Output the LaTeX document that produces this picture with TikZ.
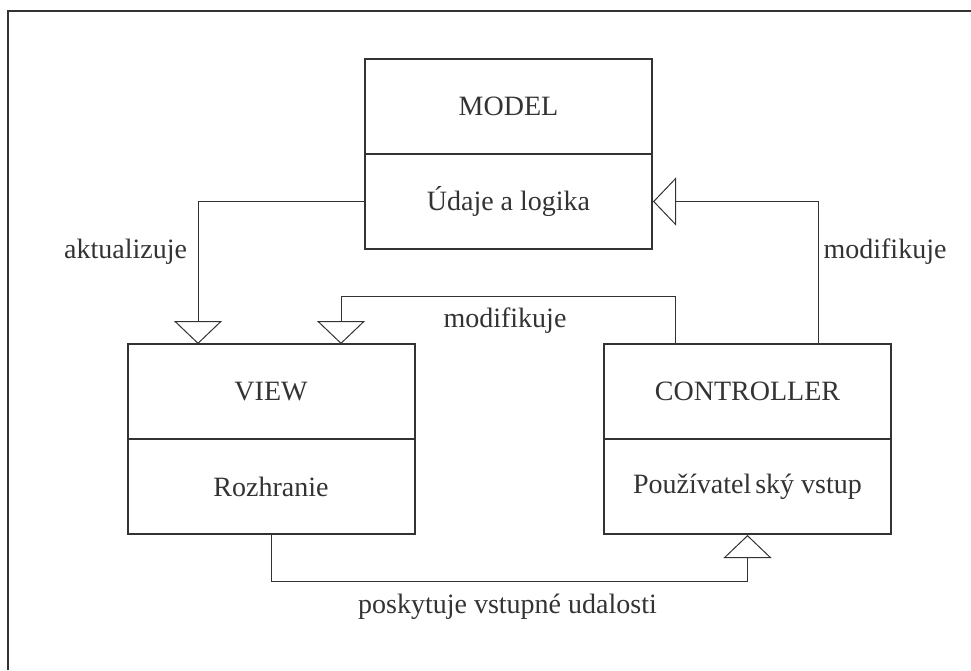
\documentclass[tikz,border=0pt]{standalone}
\usepackage{fontspec}
\setmainfont{Liberation Serif}
\usetikzlibrary{arrows.meta,calc}
\definecolor{ink}{HTML}{333333}
\tikzset{
  part/.style={draw=ink,line width=2pt,minimum width=287pt,minimum height=95pt,
    inner sep=0pt,text=ink,font=\fontsize{28}{34}\selectfont},
  conn/.style={draw=ink,line width=1pt},
  hollow/.style={-{Triangle[open,fill=white,width=48pt,length=23pt,line width=1pt]}},
  lbl/.style={text=ink,font=\fontsize{28}{34}\selectfont,inner sep=0pt}
}
\begin{document}
\begin{tikzpicture}[x=1pt,y=-1pt]
\useasboundingbox (0,0) rectangle (971,670);
% outer frame (only its top and left sides fall inside the page)
\draw[ink,line width=2pt] (8,670) -- (8,11) -- (971,11);

% MODEL
\node[part] (mt) at (508.5,106) {MODEL};
\node[part] (mb) at (508.5,201.5) {Údaje a logika};
% VIEW
\node[part] (vt) at (271,391.5) {VIEW};
\node[part] (vb) at (271,486.5) {Rozhranie};
% CONTROLLER
\node[part] (ct) at (747.5,391.5) {CONTROLLER};
\node[part] (cb) at (747.5,486.5) {Používatel\hspace{4pt}ský vstup};

% connector ends on box edges
\coordinate (vin1) at (198,344);
\coordinate (vin2) at (341,344);
\coordinate (cout1) at (675,344);
\coordinate (cout2) at (818,344);

% model -> view
\draw[conn,hollow] (mb.west) -| (vin1);
% controller -> view
\draw[conn,hollow] (cout1) -- (675,296) -| (vin2);
% controller -> model
\draw[conn,hollow] (cout2) |- (mb.east);
% view -> controller
\draw[conn,hollow] (vb.south) -- ++(0,46) -| (cb.south);

% labels
\node[lbl,anchor=base west] (l1) at (64,258) {aktualizuje};
\node[lbl,anchor=base] (l2) at (885,258) {modifikuje};
\node[lbl,anchor=base] (l3) at (505,327) {modifikuje};
\node[lbl,anchor=base] (l4) at (507.5,613) {poskytuje vstupné udalosti};
\end{tikzpicture}
\end{document}
